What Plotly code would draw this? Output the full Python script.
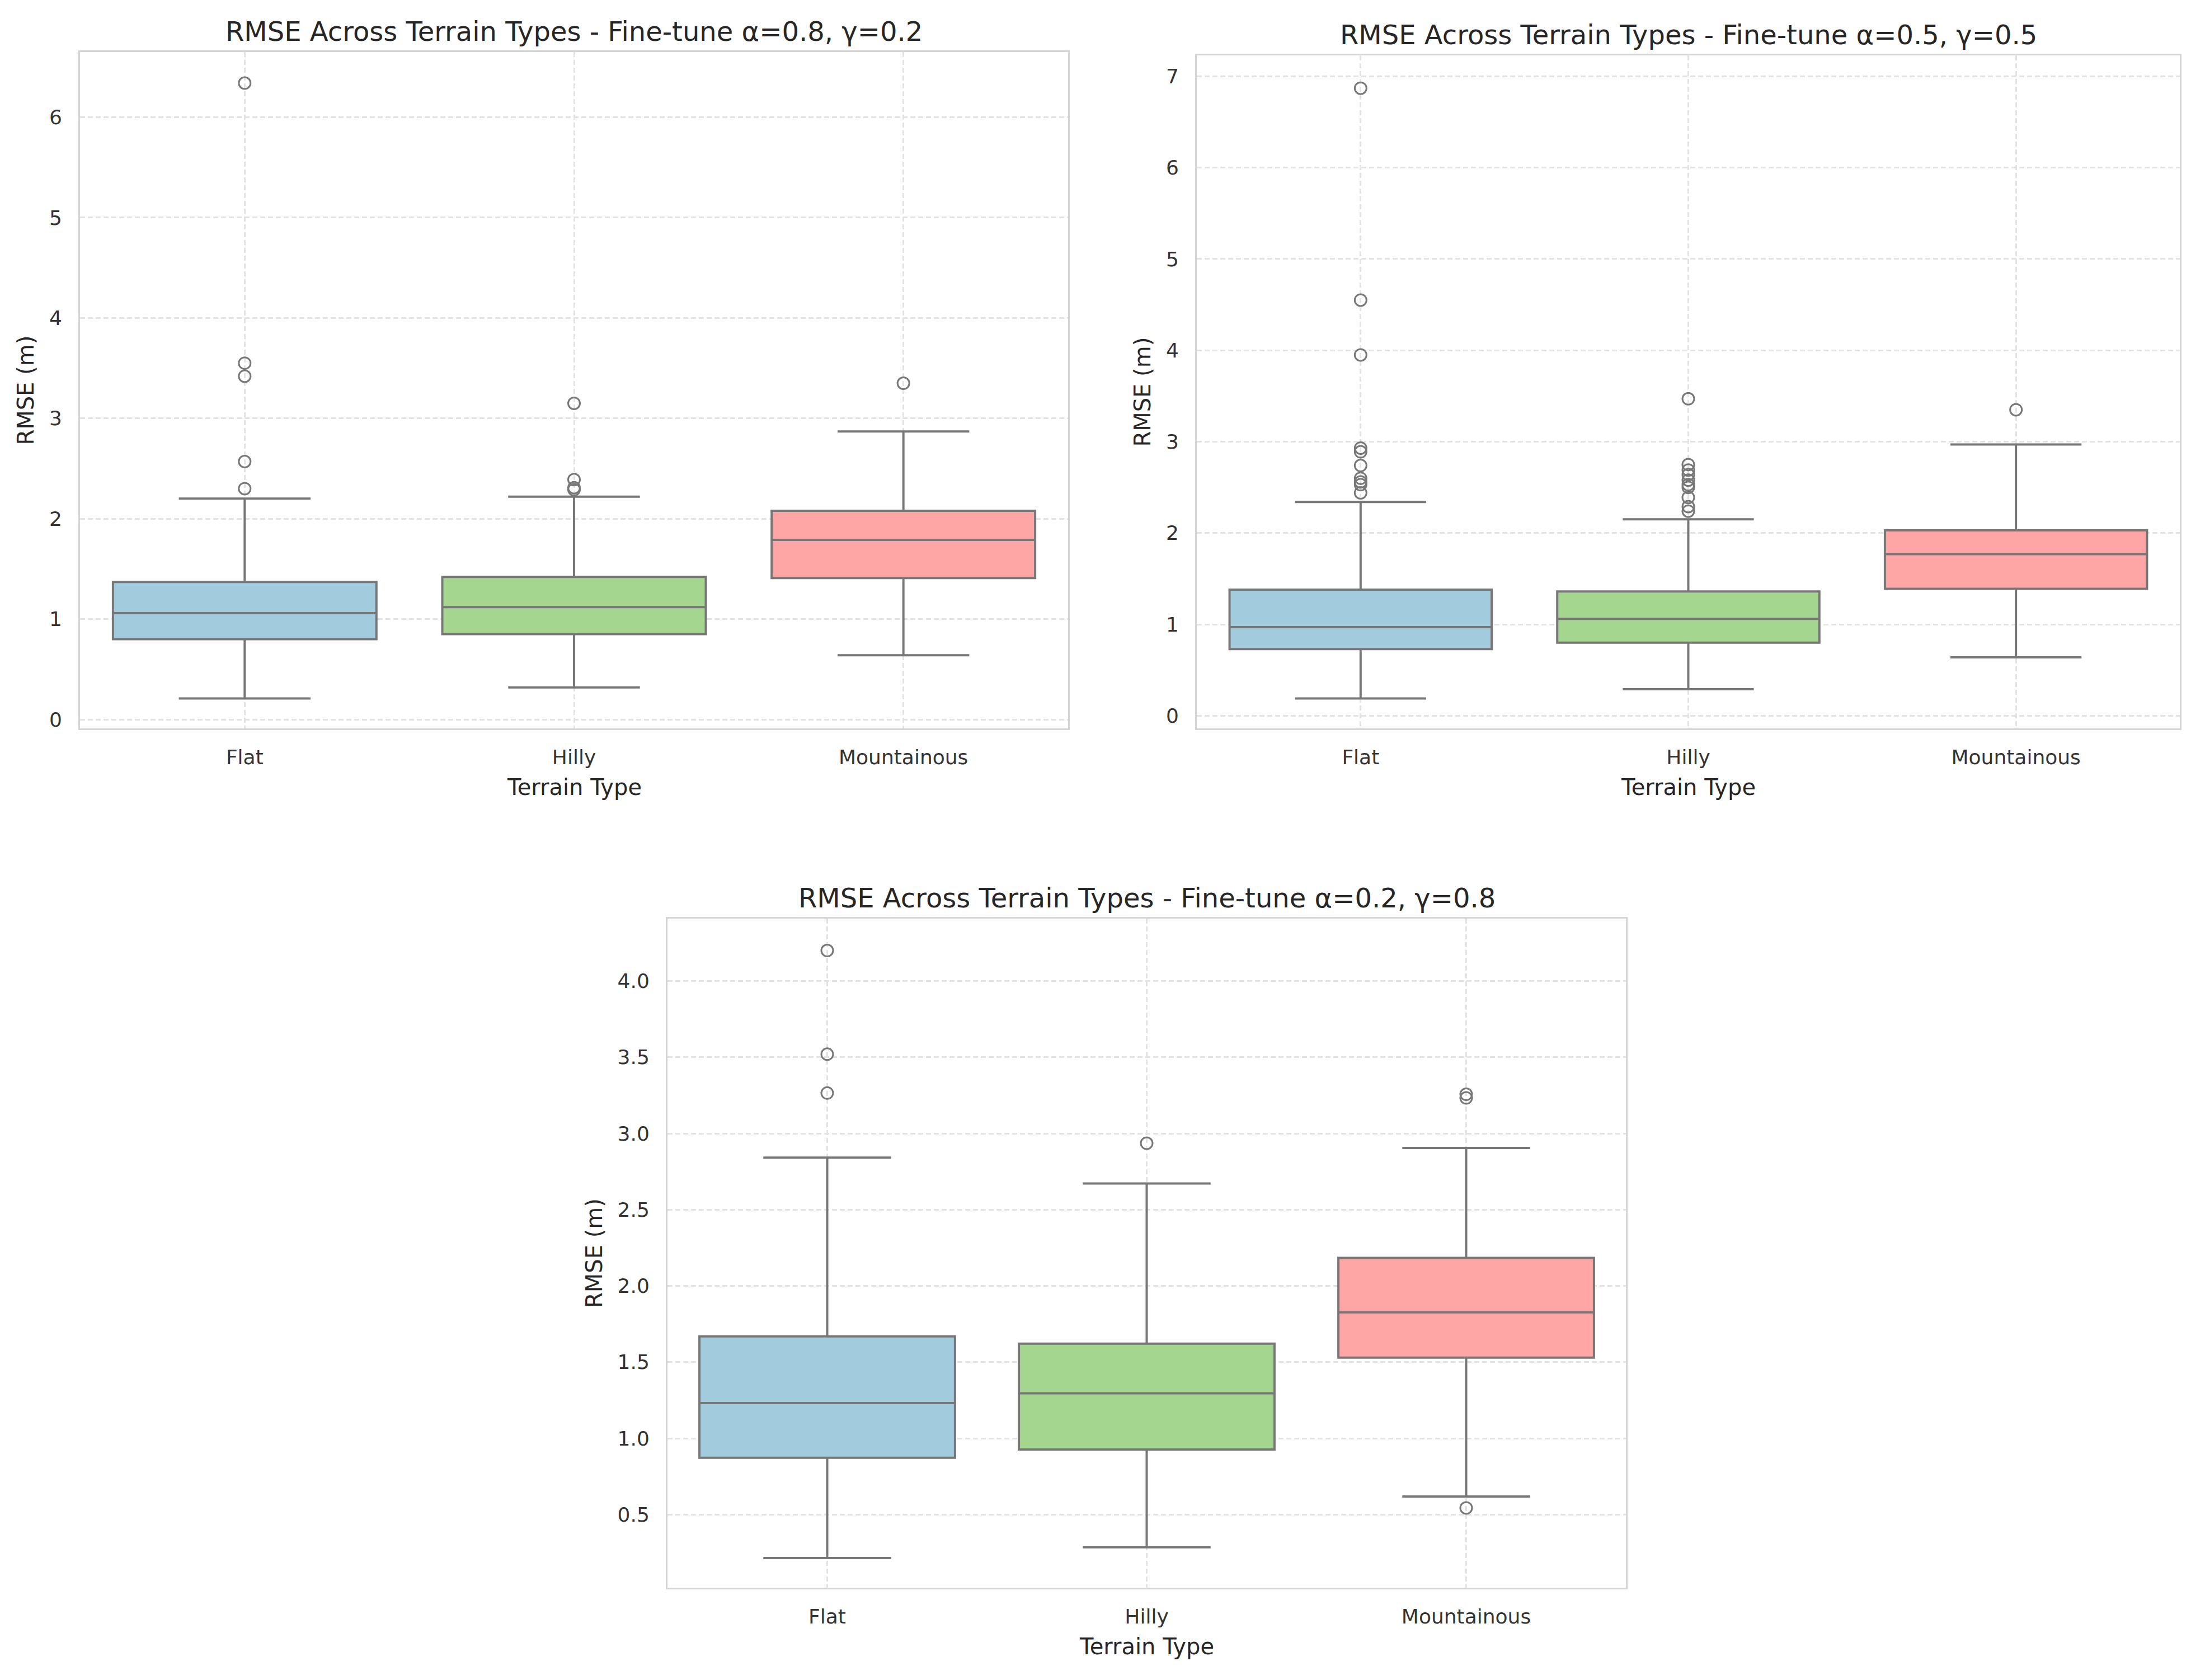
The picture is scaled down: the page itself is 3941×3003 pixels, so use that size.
import plotly.graph_objects as go

W, H = 3941, 3003
PAGE_PAD = 8  # default body margin of the html page

terrains = ["Flat", "Hilly", "Mountainous"]
fill_colors = ["#a3cbde", "#a5d690", "#fea6a6"]

# fine-tune alpha=0.8, gamma=0.2
a08_lower = [0.21, 0.32, 0.64]
a08_q1 = [0.80, 0.85, 1.41]
a08_median = [1.06, 1.12, 1.79]
a08_q3 = [1.37, 1.42, 2.08]
a08_upper = [2.20, 2.22, 2.87]
a08_outliers = [
    [2.30, 2.57, 3.42, 3.55, 6.34],
    [2.29, 2.31, 2.39, 3.15],
    [3.35],
]

# fine-tune alpha=0.5, gamma=0.5
a05_lower = [0.19, 0.29, 0.64]
a05_q1 = [0.73, 0.80, 1.39]
a05_median = [0.97, 1.06, 1.77]
a05_q3 = [1.38, 1.36, 2.03]
a05_upper = [2.34, 2.15, 2.97]
a05_outliers = [
    [2.44, 2.53, 2.56, 2.60, 2.74, 2.89, 2.93, 3.95, 4.55, 6.87],
    [2.24, 2.29, 2.39, 2.50, 2.53, 2.58, 2.64, 2.69, 2.75, 3.47],
    [3.35],
]

# fine-tune alpha=0.2, gamma=0.8
a02_lower = [0.215, 0.286, 0.619]
a02_q1 = [0.873, 0.927, 1.530]
a02_median = [1.232, 1.296, 1.827]
a02_q3 = [1.669, 1.622, 2.184]
a02_upper = [2.842, 2.672, 2.905]
a02_outliers = [
    [3.265, 3.52, 4.20],
    [2.936],
    [0.544, 3.233, 3.257],
]

y_ticks_a08 = [0, 1, 2, 3, 4, 5, 6]
y_ticks_a05 = [0, 1, 2, 3, 4, 5, 6, 7]
y_ticks_a02 = [0.5, 1.0, 1.5, 2.0, 2.5, 3.0, 3.5, 4.0]

FONT = "DejaVu Sans"
LINE = "#777777"
GRID = "#e3e3e3"

# pixel boxes of the three axes: left, right, top, bottom
panels = [
    dict(title="RMSE Across Terrain Types - Fine-tune α=0.8, γ=0.2",
         stats=(a08_lower, a08_q1, a08_median, a08_q3, a08_upper, a08_outliers),
         box=(143, 1909, 93, 1304), yrange=[-0.09, 6.65],
         yticks=y_ticks_a08, fmt="d", ytitle_dx=97),
    dict(title="RMSE Across Terrain Types - Fine-tune α=0.5, γ=0.5",
         stats=(a05_lower, a05_q1, a05_median, a05_q3, a05_upper, a05_outliers),
         box=(2139, 3896, 99, 1304), yrange=[-0.14, 7.23],
         yticks=y_ticks_a05, fmt="d", ytitle_dx=97),
    dict(title="RMSE Across Terrain Types - Fine-tune α=0.2, γ=0.8",
         stats=(a02_lower, a02_q1, a02_median, a02_q3, a02_upper, a02_outliers),
         box=(1193, 2906, 1644, 2842), yrange=[0.02, 4.41],
         yticks=y_ticks_a02, fmt=".1f", ytitle_dx=131),
]


def px(x):
    return (x - PAGE_PAD) / W


def py(y):
    return 1 - (y - PAGE_PAD) / H


fig = go.Figure()
annotations = []

for i, p in enumerate(panels, start=1):
    sfx = "" if i == 1 else str(i)
    lower, q1, median, q3, upper, outliers = p["stats"]
    for j, name in enumerate(terrains):
        fig.add_trace(go.Box(
            x=[name], lowerfence=[lower[j]], q1=[q1[j]], median=[median[j]],
            q3=[q3[j]], upperfence=[upper[j]],
            width=0.8, whiskerwidth=0.5, boxpoints=False,
            fillcolor=fill_colors[j], line=dict(color=LINE, width=4),
            xaxis="x" + sfx, yaxis="y" + sfx, showlegend=False,
        ))
        fig.add_trace(go.Scatter(
            x=[name] * len(outliers[j]), y=outliers[j], mode="markers",
            marker=dict(symbol="circle-open", size=21, color=LINE,
                        line=dict(width=3, color=LINE)),
            xaxis="x" + sfx, yaxis="y" + sfx, showlegend=False,
        ))

    left, right, top, bottom = p["box"]
    axis_common = dict(
        showline=True, mirror=True, linecolor="#d4d4d4", linewidth=3,
        showgrid=True, gridcolor=GRID, gridwidth=3, griddash="9px,5px",
        zeroline=False, ticks="",
        tickfont=dict(family=FONT, size=36, color="#333333"),
    )
    fig.update_layout({
        "xaxis" + sfx: dict(axis_common, domain=[px(left), px(right)],
                            anchor="y" + sfx, type="category",
                            categoryorder="array", categoryarray=terrains,
                            range=[-0.5, 2.5], ticklabelstandoff=18),
        "yaxis" + sfx: dict(axis_common, domain=[py(bottom), py(top)],
                            anchor="x" + sfx, range=p["yrange"],
                            tickvals=p["yticks"], tickformat=p["fmt"],
                            ticklabelstandoff=22),
    })

    cx = (left + right) / 2
    annotations.append(dict(text=p["title"], x=px(cx), y=py(top - 37),
                            xref="paper", yref="paper", showarrow=False,
                            xanchor="center", yanchor="middle",
                            font=dict(family=FONT, size=48, color="#262626")))
    annotations.append(dict(text="Terrain Type", x=px(cx), y=py(bottom + 105),
                            xref="paper", yref="paper", showarrow=False,
                            xanchor="center", yanchor="middle",
                            font=dict(family=FONT, size=40, color="#262626")))
    annotations.append(dict(text="RMSE (m)", x=px(left - p["ytitle_dx"]),
                            y=py((top + bottom) / 2), textangle=-90,
                            xref="paper", yref="paper", showarrow=False,
                            xanchor="center", yanchor="middle",
                            font=dict(family=FONT, size=40, color="#262626")))

fig.update_layout(
    width=W, height=H,
    margin=dict(l=0, r=0, t=0, b=0),
    paper_bgcolor="white", plot_bgcolor="white",
    boxmode="overlay",
    annotations=annotations,
)

fig.write_html("out.html")
